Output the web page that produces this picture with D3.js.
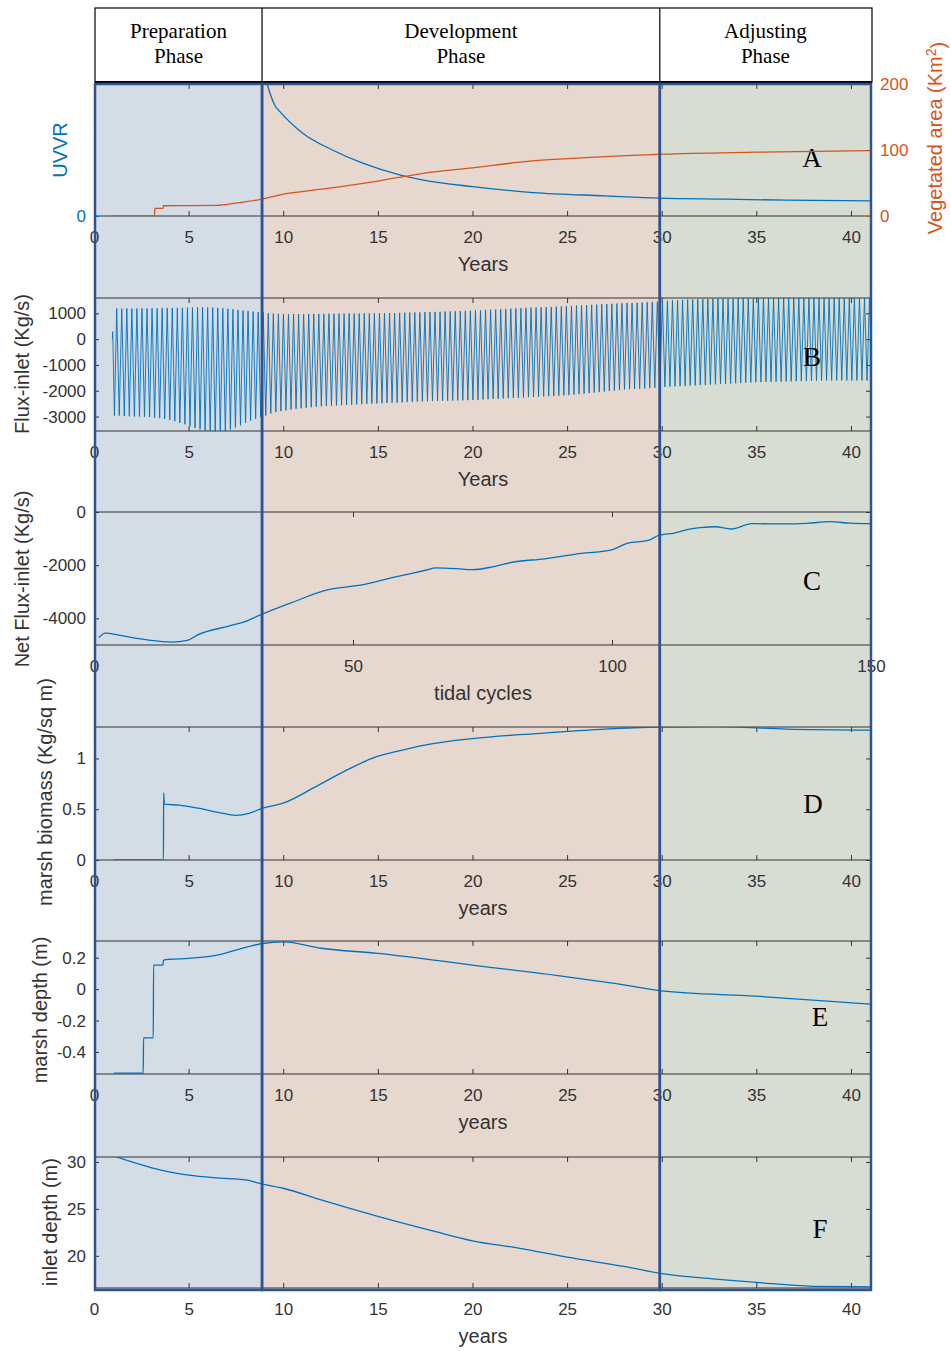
<!DOCTYPE html>
<html>
<head>
<meta charset="utf-8">
<script src="https://cdn.jsdelivr.net/npm/d3@7"></script>
<style>
  body { margin: 0; background: #fff; }
  text { font-family: "Liberation Sans", Arial, sans-serif; }
</style>
</head>
<body>
<div id="chart"></div>
<script>
// svg size
var w = 951;
var h = 1351;

// phases (years)
var phaseNames = [["Preparation", "Phase"], ["Development", "Phase"], ["Adjusting", "Phase"]];
var phaseStart = [0, 8.88, 29.9];
var phaseEnd = [8.88, 29.9, 41.06];
var phaseColors = ["#d4dce6", "#e6d7cf", "#d7ddd3"];

// x ticks
var yearTicks = [0, 5, 10, 15, 20, 25, 30, 35, 40];
var cycleTicks = [0, 50, 100, 150];

// panel A : UVVR (left) and vegetated area (right)
var uvvrYears = [9.0, 9.3, 9.6, 9.75, 11.03, 12.6, 14.2, 16.2, 17.4, 20, 23.2, 27, 29.9, 33.4, 36.6, 41];
var uvvrValues = [4.3, 3.72, 3.31, 3.21, 2.51, 2.0, 1.6, 1.24, 1.09, 0.89, 0.71, 0.61, 0.54, 0.51, 0.48, 0.46];
var vegYears = [1.05, 3.2, 3.22, 3.65, 3.67, 5, 6.5, 7.5, 8.88, 10, 12, 15, 17.4, 20, 23, 25, 30, 35, 41];
var vegValues = [0, 0, 11.6, 11.6, 15.5, 15.8, 16, 19.5, 25.6, 33, 40.6, 53, 64.7, 73, 83, 86.8, 93.7, 96.7, 99.2];

// panel B : tidal flux, one high and one low per tidal cycle
var fluxLeadYears = [0.97, 0.99, 1.08];
var fluxLeadValues = [0, 290, -2960];
var fluxFirstYear = 1.2;
var fluxPeriod = 0.267;
var fluxHigh = [
  1190, 1180, 1190, 1185, 1190, 1195, 1190, 1200, 1195, 1200,
  1205, 1210, 1210, 1215, 1220, 1225, 1230, 1230, 1225, 1220,
  1210, 1200, 1180, 1160, 1130, 1110, 1090, 1070, 1050, 1030,
  1000, 990, 980, 975, 970, 970, 975, 970, 975, 980,
  975, 980, 985, 985, 990, 990, 995, 990, 995, 1000,
  995, 1000, 1005, 1010, 1010, 1015, 1020, 1025, 1030, 1035,
  1040, 1045, 1050, 1055, 1060, 1070, 1075, 1080, 1090, 1095,
  1100, 1110, 1120, 1130, 1140, 1150, 1160, 1170, 1180, 1190,
  1200, 1210, 1220, 1225, 1235, 1245, 1250, 1260, 1270, 1280,
  1290, 1300, 1310, 1320, 1330, 1340, 1350, 1360, 1370, 1380,
  1390, 1400, 1405, 1410, 1420, 1430, 1440, 1450, 1480, 1490,
  1500, 1510, 1520, 1530, 1540, 1545, 1550, 1555, 1560, 1565,
  1570, 1575, 1580, 1585, 1590, 1590, 1595, 1600, 1600, 1600,
  1600, 1600, 1600, 1600, 1600, 1600, 1600, 1600, 1600, 1600,
  1600, 1600, 1600, 1600, 1600, 1600, 1600, 1600, 1600, 1600
];
var fluxLow = [
  -2960, -2980, -2990, -3000, -3000, -3010, -3020, -3040, -3060, -3090,
  -3130, -3180, -3240, -3300, -3370, -3440, -3500, -3540, -3570, -3580,
  -3580, -3560, -3500, -3420, -3340, -3250, -3160, -3080, -3020, -2960,
  -2880, -2830, -2790, -2760, -2730, -2700, -2680, -2660, -2640, -2620,
  -2600, -2590, -2580, -2570, -2560, -2550, -2540, -2530, -2520, -2510,
  -2500, -2490, -2480, -2470, -2460, -2455, -2450, -2440, -2430, -2420,
  -2410, -2405, -2400, -2395, -2390, -2385, -2380, -2375, -2370, -2365,
  -2360, -2350, -2340, -2330, -2320, -2310, -2300, -2290, -2280, -2270,
  -2260, -2250, -2240, -2230, -2220, -2210, -2200, -2190, -2180, -2170,
  -2150, -2130, -2110, -2090, -2070, -2050, -2030, -2010, -1990, -1970,
  -1950, -1940, -1930, -1920, -1910, -1900, -1890, -1880, -1850, -1840,
  -1830, -1820, -1810, -1800, -1790, -1780, -1770, -1760, -1750, -1740,
  -1730, -1720, -1710, -1700, -1690, -1680, -1670, -1665, -1660, -1655,
  -1650, -1645, -1640, -1635, -1630, -1625, -1620, -1615, -1610, -1605,
  -1600, -1600, -1600, -1600, -1600, -1600, -1600, -1600, -1600, -1600
];

// panel C : net flux vs tidal cycles
var netCycles = [0.9, 2.2, 5, 10, 15, 18, 20, 26, 29, 32, 38, 45, 52, 58, 64, 66, 70, 73, 77, 81, 87, 93, 100, 103, 107, 109, 112, 115, 117, 120, 123, 127, 134, 138, 142, 146, 150];
var netValues = [-4720, -4550, -4640, -4800, -4890, -4830, -4620, -4290, -4130, -3880, -3420, -2930, -2730, -2450, -2190, -2100, -2130, -2170, -2060, -1880, -1760, -1580, -1420, -1170, -1070, -880, -790, -640, -590, -555, -640, -440, -450, -420, -365, -420, -440];

// panel D : marsh biomass
var bioYears = [1.05, 3.67, 3.68, 3.72, 4.5, 5.5, 6.55, 7.5, 8.2, 8.9, 10, 11.7, 13.3, 14.9, 16, 17.4, 20, 23.8, 27, 29.9, 32.8, 36.6, 41];
var bioValues = [0, 0, 0.66, 0.55, 0.54, 0.51, 0.47, 0.44, 0.46, 0.51, 0.56, 0.72, 0.88, 1.016, 1.07, 1.13, 1.196, 1.25, 1.29, 1.31, 1.315, 1.29, 1.28];

// panel E : marsh depth
var mdYears = [1.05, 2.6, 2.62, 3.13, 3.15, 3.65, 3.67, 4, 5, 6.5, 7.5, 8.9, 10, 12, 15, 20, 25, 27.5, 30, 35, 41];
var mdValues = [-0.535, -0.535, -0.31, -0.31, 0.153, 0.153, 0.185, 0.19, 0.195, 0.216, 0.248, 0.29, 0.3, 0.26, 0.227, 0.153, 0.078, 0.036, -0.011, -0.045, -0.096];

// panel F : inlet depth
var idYears = [1.05, 2, 3, 5, 6.5, 8, 8.9, 10, 12, 15, 18, 20, 22.5, 25, 28, 30, 33, 35, 38, 41];
var idValues = [30.64, 30, 29.4, 28.6, 28.3, 28.1, 27.64, 27.2, 25.95, 24.2, 22.6, 21.6, 20.8, 19.86, 18.87, 18.1, 17.5, 17.17, 16.75, 16.7];

// colors
var blue = "#0072bd";
var orange = "#d95319";
var axisColor = "#333333";
var borderColor = "#2f5391";

// layout
var left = 94, right = 871;
var bgTop = 84, bgBottom = 1290;

var svg = d3.select("#chart")
    .append("svg")
    .attr("width", w)
    .attr("height", h);

var xYears = d3.scaleLinear().domain([0, 41.06]).range([left, right]);
var xCycles = d3.scaleLinear().domain([0, 150]).range([left, right]);

// phase backgrounds
phaseStart.forEach(function(s, i) {
    svg.append("rect")
        .attr("x", xYears(s))
        .attr("y", bgTop)
        .attr("width", xYears(phaseEnd[i]) - xYears(s))
        .attr("height", bgBottom - bgTop)
        .attr("fill", phaseColors[i]);
});

// header box with phase names
var headTop = 8, headBottom = 82;
svg.append("rect")
    .attr("x", 95).attr("y", headTop)
    .attr("width", 777).attr("height", headBottom - headTop)
    .attr("fill", "#fff").attr("stroke", "#000").attr("stroke-width", 1.2);
svg.append("line")
    .attr("x1", 95).attr("x2", 872).attr("y1", headBottom).attr("y2", headBottom)
    .attr("stroke", "#000").attr("stroke-width", 2);
phaseStart.forEach(function(s, i) {
    if (i > 0) {
        svg.append("line")
            .attr("x1", xYears(s)).attr("x2", xYears(s))
            .attr("y1", headTop).attr("y2", headBottom)
            .attr("stroke", "#000").attr("stroke-width", 1.2);
    }
    var cx = (Math.max(95, xYears(s)) + Math.min(872, xYears(phaseEnd[i]))) / 2;
    phaseNames[i].forEach(function(line, k) {
        svg.append("text")
            .attr("x", cx)
            .attr("y", 38 + k * 25)
            .attr("text-anchor", "middle")
            .style("font-family", "'Liberation Serif', 'Times New Roman', serif")
            .style("font-size", "21px")
            .text(line);
    });
});

// draws one panel: frame lines, ticks, labels and the series
function drawPanel(p) {
    var y = d3.scaleLinear().domain(p.domain).range([p.bottom, p.top]);
    var x = p.x;
    var g = svg.append("g");

    var clipId = "clip-" + p.name;
    svg.append("clipPath").attr("id", clipId)
        .append("rect")
        .attr("x", left).attr("y", p.top)
        .attr("width", right - left).attr("height", p.bottom - p.top);

    // top and bottom frame lines
    [p.top, p.bottom].forEach(function(yy) {
        g.append("line")
            .attr("x1", left).attr("x2", right).attr("y1", yy).attr("y2", yy)
            .attr("stroke", axisColor).attr("stroke-width", 1);
    });

    // x axis with labels
    var xAxis = g.append("g")
        .attr("transform", `translate(0,${p.bottom})`)
        .call(d3.axisBottom(x).tickValues(p.xTicks).tickSize(-5).tickPadding(15).tickFormat(d3.format("d")));
    xAxis.select(".domain").remove();
    xAxis.selectAll("line").attr("stroke", axisColor);
    xAxis.selectAll("text").attr("fill", axisColor).style("font-size", "17px");

    // top ticks
    var xTop = g.append("g")
        .attr("transform", `translate(0,${p.top})`)
        .call(d3.axisTop(x).tickValues(p.xTicks).tickSize(-5).tickFormat(""));
    xTop.select(".domain").remove();
    xTop.selectAll("line").attr("stroke", axisColor);

    // left y axis
    var yLeft = g.append("g")
        .attr("transform", `translate(${left},0)`)
        .call(d3.axisLeft(y).tickValues(p.yTicks).tickSize(-5).tickPadding(8).tickFormat(d => d));
    yLeft.select(".domain").remove();
    yLeft.selectAll("line").attr("stroke", p.leftColor || axisColor);
    yLeft.selectAll("text").attr("fill", p.leftColor || axisColor).style("font-size", "17px");

    // right ticks
    if (!p.right) {
        var yRight = g.append("g")
            .attr("transform", `translate(${right},0)`)
            .call(d3.axisRight(y).tickValues(p.yTicks).tickSize(-5).tickFormat(""));
        yRight.select(".domain").remove();
        yRight.selectAll("line").attr("stroke", axisColor);
    }

    // x axis title
    g.append("text")
        .attr("x", 483)
        .attr("y", p.bottom + 55)
        .attr("text-anchor", "middle")
        .attr("fill", axisColor)
        .style("font-size", "20px")
        .text(p.xLabel);

    // y axis title
    g.append("text")
        .attr("transform", `translate(${p.yLabelX},${p.yLabelY}) rotate(-90)`)
        .attr("text-anchor", "middle")
        .attr("dy", "0.35em")
        .attr("fill", p.leftColor || axisColor)
        .style("font-size", "20px")
        .text(p.yLabel);

    // series
    var line = d3.line().x(d => x(d[0])).y(d => y(d[1])).curve(p.curve || d3.curveLinear);
    g.append("path")
        .datum(p.data)
        .attr("clip-path", `url(#${clipId})`)
        .attr("fill", "none")
        .attr("stroke", blue)
        .attr("stroke-width", p.strokeWidth || 1.3)
        .attr("d", line);

    // panel letter
    g.append("text")
        .attr("x", p.letterX)
        .attr("y", p.letterY)
        .attr("text-anchor", "middle")
        .style("font-family", "'Liberation Serif', 'Times New Roman', serif")
        .style("font-size", "27px")
        .text(p.name);

    // optional right axis (panel A)
    if (p.right) {
        var yr = d3.scaleLinear().domain(p.right.domain).range([p.bottom, p.top]);
        var axR = g.append("g")
            .attr("transform", `translate(${right},0)`)
            .call(d3.axisRight(yr).tickValues(p.right.ticks).tickSize(-5).tickPadding(9));
        axR.select(".domain").remove();
        axR.selectAll("line").attr("stroke", orange);
        axR.selectAll("text").attr("fill", orange).style("font-size", "17px");

        var rline = d3.line().x(d => x(d[0])).y(d => yr(d[1])).curve(d3.curveMonotoneX);
        g.append("path")
            .datum(p.right.data)
            .attr("clip-path", `url(#${clipId})`)
            .attr("fill", "none")
            .attr("stroke", orange)
            .attr("stroke-width", 1.3)
            .attr("d", rline);

        var rt = g.append("text")
            .attr("transform", `translate(935,138) rotate(-90)`)
            .attr("text-anchor", "middle")
            .attr("dy", "0.35em")
            .attr("fill", orange)
            .style("font-size", "20px");
        rt.append("tspan").text("Vegetated area (Km");
        rt.append("tspan").attr("dy", "-0.45em").style("font-size", "14px").text("2");
        rt.append("tspan").attr("dy", "0.45em").text(")");
    }
}

// build series
var uvvrData = uvvrYears.map((t, i) => [t, uvvrValues[i]]);
var vegData = vegYears.map((t, i) => [t, vegValues[i]]);
var fluxData = fluxLeadYears.map((t, i) => [t, fluxLeadValues[i]]);
fluxHigh.forEach(function(v, i) {
    var t = fluxFirstYear + i * fluxPeriod;
    fluxData.push([t, v]);
    fluxData.push([t + fluxPeriod / 2, fluxLow[i]]);
});
var netData = netCycles.map((c, i) => [c, netValues[i]]);
var bioData = bioYears.map((t, i) => [t, bioValues[i]]);
var mdData = mdYears.map((t, i) => [t, mdValues[i]]);
var idData = idYears.map((t, i) => [t, idValues[i]]);

drawPanel({
    name: "A", x: xYears, top: 84, bottom: 216, domain: [0, 4],
    xTicks: yearTicks, yTicks: [0], leftColor: blue,
    xLabel: "Years", yLabel: "UVVR", yLabelX: 60, yLabelY: 150,
    data: uvvrData, curve: d3.curveMonotoneX, letterX: 812, letterY: 167,
    right: { domain: [0, 200], ticks: [0, 100, 200], data: vegData }
});

drawPanel({
    name: "B", x: xYears, top: 298, bottom: 431, domain: [-3560, 1595],
    xTicks: yearTicks, yTicks: [-3000, -2000, -1000, 0, 1000],
    xLabel: "Years", yLabel: "Flux-inlet (Kg/s)", yLabelX: 22, yLabelY: 364,
    data: fluxData, strokeWidth: 0.9, letterX: 812, letterY: 366
});

drawPanel({
    name: "C", x: xCycles, top: 512, bottom: 645, domain: [-5000, 0],
    xTicks: cycleTicks, yTicks: [-4000, -2000, 0],
    xLabel: "tidal cycles", yLabel: "Net Flux-inlet (Kg/s)", yLabelX: 22, yLabelY: 579,
    data: netData, curve: d3.curveMonotoneX, letterX: 812, letterY: 590
});

drawPanel({
    name: "D", x: xYears, top: 727, bottom: 860, domain: [0, 1.31],
    xTicks: yearTicks, yTicks: [0, 0.5, 1],
    xLabel: "years", yLabel: "marsh biomass (Kg/sq m)", yLabelX: 45, yLabelY: 792,
    data: bioData, curve: d3.curveMonotoneX, letterX: 813, letterY: 813
});

drawPanel({
    name: "E", x: xYears, top: 941, bottom: 1074, domain: [-0.54, 0.306],
    xTicks: yearTicks, yTicks: [-0.4, -0.2, 0, 0.2],
    xLabel: "years", yLabel: "marsh depth (m)", yLabelX: 40, yLabelY: 1010,
    data: mdData, curve: d3.curveMonotoneX, letterX: 820, letterY: 1026
});

drawPanel({
    name: "F", x: xYears, top: 1157, bottom: 1288, domain: [16.57, 30.53],
    xTicks: yearTicks, yTicks: [20, 25, 30],
    xLabel: "years", yLabel: "inlet depth (m)", yLabelX: 50, yLabelY: 1222,
    data: idData, curve: d3.curveMonotoneX, letterX: 820, letterY: 1238
});

// phase borders on top
phaseStart.forEach(function(s, i) {
    var x0 = Math.max(95, xYears(s)), x1 = Math.min(872, xYears(phaseEnd[i]));
    svg.append("rect")
        .attr("x", x0).attr("y", bgTop)
        .attr("width", x1 - x0).attr("height", bgBottom - bgTop)
        .attr("fill", "none")
        .attr("stroke", borderColor)
        .attr("stroke-width", 2.5);
});
</script>
</body>
</html>
